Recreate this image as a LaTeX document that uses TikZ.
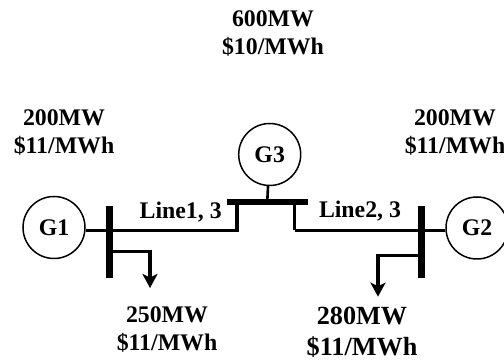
\documentclass[tikz,border=0pt]{standalone}
\usepackage{fontspec}
\setmainfont{Liberation Serif}
\usetikzlibrary{arrows.meta}

\begin{document}
\begin{tikzpicture}[x=1pt,y=1pt,>={Stealth[length=14pt,width=15pt,inset=3.5pt]},
	every node/.style={font=\fontsize{23.8}{28}\selectfont\bfseries,align=center,inner sep=0pt},
	gen/.style={circle,draw,line width=1.5pt,minimum size=62pt},
	busv/.style={fill=black,minimum width=6.5pt,minimum height=72pt},
	bush/.style={fill=black,minimum width=81pt,minimum height=6pt},
	big/.style={font=\fontsize{26.2}{31}\selectfont\bfseries},
	thick line/.style={line width=3.2pt},
	thin line/.style={line width=2.6pt}]

	\useasboundingbox (0,0) rectangle (504,-363);

	\node [gen] at (54,-227.5)	(G1)	{G1};
	\node [gen] at (477,-228)	(G2)	{G2};
	\node [gen] at (269.7,-154.5)	(G3)	{G3};

	\node [busv] at (109.7,-242)	(bus1)	{};
	\node [busv] at (421.7,-242)	(bus2)	{};
	\node [bush] at (267.2,-202.5)	(bus3)	{};

	\coordinate (j1) at (109.7,-230.3);
	\coordinate (j2) at (421.7,-230.3);
	\coordinate (t1) at (237,-202.5);
	\coordinate (t2) at (294.7,-202.5);
	\coordinate (l1) at (109.7,-251.7);
	\coordinate (l2) at (421.7,-255.7);

	\node at (64,-132)		(gen1)	{200MW\\\$11/MWh};
	\node at (455,-132)		(gen2)	{200MW\\\$11/MWh};
	\node at (273,-33)		(gen3)	{600MW\\\$10/MWh};
	\node at (167,-329.5)		(load1)	{250MW\\\$11/MWh};
	\node [big] at (362,-332.5)	(load2)	{280MW\\\$11/MWh};
	\node at (180.7,-211.7)		(line1)	{Line1, 3};
	\node at (360,-210.7)		(line2)	{Line2, 3};

	\coordinate (e1) at (150,-288);
	\coordinate (e2) at (378,-296.7);

	\path [draw,thick line]	(G1.east |- j1) -- (j1) -- (t1 |- j1) -- (t1);
	\path [draw,thick line]	(t2) -- (t2 |- j2);
	\path [draw,thin line]	(t2 |- j2) -- (j2) -- (G2.west |- j2);
	\path [draw,thin line]	(G3) -- (bus3);
	\path [draw,thick line,->]	(l1) -| (e1);
	\path [draw,thick line,->]	(l2) -| (e2);

\end{tikzpicture}
\end{document}
